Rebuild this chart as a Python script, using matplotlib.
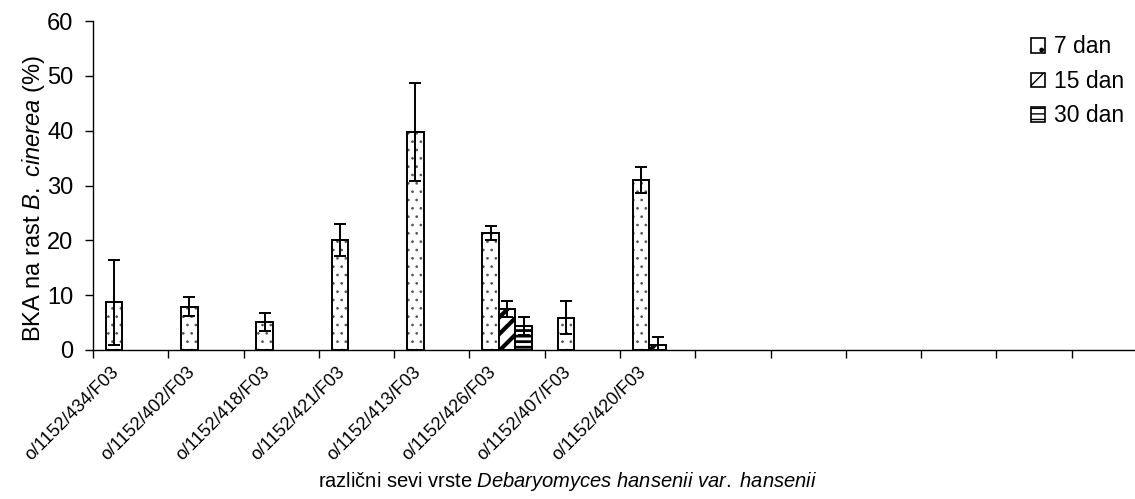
import numpy as np
import matplotlib
matplotlib.use("Agg")
import matplotlib.pyplot as plt
import matplotlib.transforms as mtransforms
from matplotlib.patches import Patch

plt.rcParams["font.family"] = ["Liberation Sans", "DejaVu Sans"]
plt.rcParams["mathtext.fontset"] = "custom"
plt.rcParams["mathtext.rm"] = "Liberation Sans"
plt.rcParams["mathtext.it"] = "Liberation Sans:italic"

# strains tested (the axis has room for 14 slots, only 8 are used)
strains = ["o/1152/434/F03", "o/1152/402/F03", "o/1152/418/F03", "o/1152/421/F03",
           "o/1152/413/F03", "o/1152/426/F03", "o/1152/407/F03", "o/1152/420/F03"]
n_slots = 14

nan = np.nan
day7 = [8.7, 7.9, 5.1, 20.1, 39.8, 21.4, 5.9, 31.0]
day7_err = [7.8, 1.7, 1.65, 2.9, 8.95, 1.3, 3.0, 2.4]
day15 = [nan, nan, nan, nan, nan, 7.5, nan, 0.9]
day15_err = [nan, nan, nan, nan, nan, 1.4, nan, 1.5]
day30 = [nan, nan, nan, nan, nan, 4.4, nan, nan]
day30_err = [nan, nan, nan, nan, nan, 1.7, nan, nan]

series = [
    ("7 dan", day7, day7_err, ".."),
    ("15 dan", day15, day15_err, "//"),
    ("30 dan", day30, day30_err, "---"),
]
hatch_lw = {"..": 0.7, "//": 3.0, "---": 2.0}

fig = plt.figure(figsize=(11.35, 4.99), dpi=100)
ax = fig.add_axes([93 / 1135, 1 - 350 / 499, 1054 / 1135, 329 / 499])

width = 0.22
centers = np.arange(len(strains)) + 0.5
handles = []
for k, (name, vals, errs, hatch) in enumerate(series):
    vals = np.array(vals, dtype=float)
    errs = np.array(errs, dtype=float)
    ok = ~np.isnan(vals)
    x = centers[ok] + (k - 1) * width
    with plt.rc_context({"hatch.linewidth": hatch_lw[hatch]}):
        if hatch == "..":
            # grey dots inside, black outline on top
            ax.bar(x, vals[ok], width, color="white", edgecolor="#555555",
                   hatch=hatch, linewidth=0, zorder=2)
            ax.bar(x, vals[ok], width, fill=False, edgecolor="black",
                   linewidth=1.4, zorder=3)
            handles.append(Patch(facecolor="white", edgecolor="black",
                                 hatch=".", linewidth=1.2, label=name))
        else:
            ax.bar(x, vals[ok], width, color="white", edgecolor="black",
                   hatch=hatch, linewidth=1.4, zorder=3)
            handles.append(Patch(facecolor="white", edgecolor="black",
                                 hatch=hatch, linewidth=1.2, label=name))
    ax.errorbar(x, vals[ok], yerr=errs[ok], fmt="none", ecolor="black",
                elinewidth=1.4, capsize=4.3, capthick=1.4, zorder=4)

ax.set_xlim(0, n_slots)
ax.set_ylim(0, 60)
ax.set_yticks(range(0, 61, 10))
ax.tick_params(axis="y", labelsize=17, length=6, width=1, direction="out", pad=8)

# ticks between categories, labels at category centres
ax.set_xticks(np.arange(0, n_slots + 1))
ax.set_xticklabels([])
ax.tick_params(axis="x", which="major", length=6, width=1, direction="out")
ax.set_xticks(centers, minor=True)
ax.set_xticklabels(strains, minor=True, rotation=45, ha="right",
                   rotation_mode="anchor", fontsize=13)
ax.tick_params(axis="x", which="minor", length=0, pad=10)
shift = mtransforms.ScaledTranslation(-0.2, 0, fig.dpi_scale_trans)
for lbl in ax.get_xticklabels(minor=True):
    lbl.set_transform(lbl.get_transform() + shift)

for side in ("top", "right"):
    ax.spines[side].set_visible(False)
ax.spines["left"].set_linewidth(1)
ax.spines["bottom"].set_linewidth(1)

ax.set_ylabel(r"BKA na rast $\it{B.\ cinerea}$ (%)", fontsize=17)
ax.yaxis.set_label_coords(-0.044, 0.46)
fig.text(0.5, 0.035,
         r"različni sevi vrste $\it{Debaryomyces\ hansenii\ var.\ hansenii}$",
         ha="center", va="center", fontsize=14.5)

fig.legend(handles=handles, loc="upper left",
           bbox_to_anchor=(1020 / 1135, 1 - 24 / 499), frameon=False,
           fontsize=16.5, handlelength=0.6, handleheight=0.6,
           handletextpad=0.4, labelspacing=0.5, borderpad=0)

fig.savefig("out.png", dpi=100)
